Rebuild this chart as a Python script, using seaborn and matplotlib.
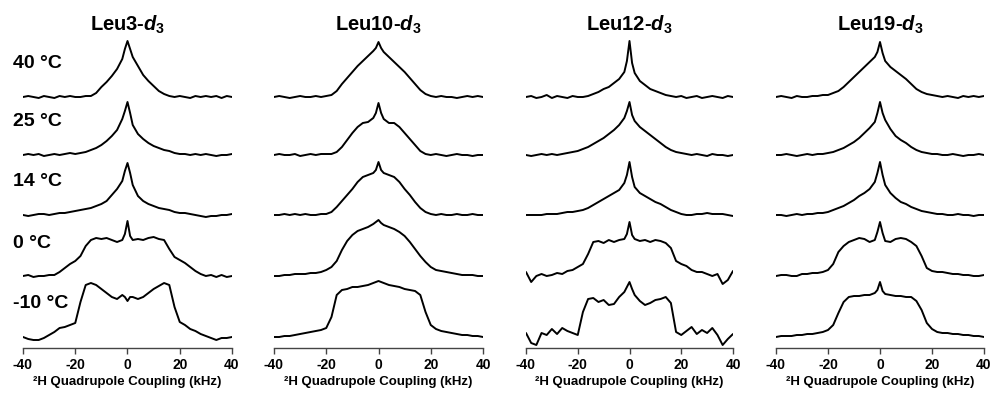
import numpy as np
import matplotlib
matplotlib.use('Agg')
import matplotlib.pyplot as plt
import seaborn as sns

# frequency grid (kHz), denser at the centre to keep the sharp isotropic peak
khz = [-40, -38, -36, -34, -32, -30, -28, -26, -24, -22, -20, -18, -16, -14, -12, -10, -8, -6, -4, -2,
       -1, 0, 1,
       2, 4, 6, 8, 10, 12, 14, 16, 18, 20, 22, 24, 26, 28, 30, 32, 34, 36, 38, 40]

temps = ['40 \u00b0C', '25 \u00b0C', '14 \u00b0C', '0 \u00b0C', '-10 \u00b0C']
panels = ['Leu3', 'Leu10', 'Leu12', 'Leu19']

# relative intensities
leu3_40 = [0, 1, 0, -1, 1, 0, -1, 1, 0, 1, 0, 0, 1, 1, 4, 10, 15, 21, 28, 38,
           48, 56, 48,
           40, 31, 22, 16, 11, 6, 3, 1, 0, 1, 0, -1, 1, 0, 1, 0, 1, -1, 1, 0]
leu3_25 = [0, 1, 0, 1, -1, 0, 1, 0, 1, 2, 1, 2, 3, 5, 7, 10, 14, 19, 25, 36,
           44, 53, 42,
           30, 21, 16, 12, 9, 7, 5, 4, 2, 1, 1, 0, 1, 0, 1, 0, -1, 0, 0, 1]
leu3_14 = [0, -1, 0, 1, 1, 0, 1, 2, 2, 3, 4, 5, 6, 7, 9, 11, 14, 20, 26, 34,
           44, 52, 42,
           30, 19, 14, 11, 9, 7, 6, 5, 3, 2, 2, 1, 0, -1, -2, -1, -1, 0, 0, 1]
leu3_0 = [0, 1, -1, 0, 0, 1, 1, 4, 8, 12, 15, 20, 30, 36, 38, 37, 38, 36, 34, 36,
          42, 55, 40,
          36, 37, 36, 38, 39, 37, 36, 27, 19, 16, 13, 9, 5, 2, 0, 1, -1, 1, -1, 0]
leu3_m10 = [0, -2, -3, -3, -1, 2, 5, 9, 10, 12, 14, 35, 52, 54, 52, 48, 44, 40, 38, 42,
            40, 36, 40,
            40, 38, 40, 44, 48, 51, 54, 52, 30, 15, 12, 8, 6, 3, 1, -1, -3, -1, -1, 0]

leu10_40 = [0, 1, 0, -1, 0, 1, 0, 0, 1, 0, 1, 2, 6, 13, 19, 25, 31, 36, 41, 46,
            49, 55, 49,
            45, 40, 35, 30, 25, 19, 13, 7, 3, 1, 0, 1, 0, 0, -1, 0, 1, 0, 1, 0]
leu10_25 = [0, 1, 0, 0, 1, -1, 0, 1, 0, 1, 1, 1, 3, 8, 15, 22, 28, 32, 33, 37,
            42, 52, 42,
            36, 32, 32, 28, 22, 16, 10, 4, 1, 0, 1, 0, -1, 0, 1, 0, 0, -1, 0, 0]
leu10_14 = [0, 0, 1, 0, 1, 0, 1, 0, 0, 1, 1, 3, 8, 14, 20, 26, 33, 38, 40, 42,
            45, 53, 45,
            42, 40, 38, 33, 26, 20, 13, 7, 3, 1, 0, 1, 0, 0, 1, 0, 0, 1, 0, 0]
leu10_0 = [0, 0, 1, 1, 2, 2, 2, 3, 3, 4, 6, 9, 15, 26, 35, 41, 45, 47, 49, 52,
           54, 56, 53,
           51, 49, 47, 44, 40, 34, 27, 20, 14, 9, 6, 5, 4, 3, 2, 1, 1, 1, 0, 0]
leu10_m10 = [0, 0, 1, 1, 2, 3, 4, 5, 6, 7, 9, 20, 42, 47, 48, 50, 50, 51, 52, 54,
             55, 56, 55,
             54, 52, 51, 50, 48, 47, 46, 42, 25, 12, 8, 6, 5, 4, 3, 2, 2, 1, 1, 0]

leu12_40 = [0, 1, -1, 0, 2, -1, 1, 0, -1, 1, 0, 0, 1, 3, 5, 8, 10, 14, 18, 25,
            36, 56, 34,
            24, 16, 12, 8, 6, 4, 2, 1, 0, 1, -1, 0, 1, -1, 0, 1, 0, -1, 1, 0]
leu12_25 = [0, -1, 0, 1, 0, 1, 0, 1, 2, 3, 4, 6, 8, 11, 14, 17, 21, 25, 30, 37,
            44, 53, 40,
            34, 28, 24, 20, 16, 12, 8, 5, 3, 2, 1, 0, 1, 0, -1, 1, 0, 0, -1, 0]
leu12_14 = [0, 0, 0, 0, 1, 1, 1, 2, 3, 3, 4, 5, 7, 10, 13, 16, 19, 22, 25, 32,
            40, 53, 38,
            28, 22, 19, 16, 13, 11, 8, 5, 3, 1, 0, 0, 1, 1, 2, 1, 1, 1, 0, -1]
leu12_0 = [4, -6, 0, 2, 0, 1, 3, 2, 5, 6, 9, 12, 22, 34, 35, 33, 36, 34, 36, 37,
           42, 54, 41,
           37, 35, 36, 34, 36, 35, 33, 28, 15, 12, 10, 6, 4, 4, 2, 0, 2, -8, -4, 5]
leu12_m10 = [4, -6, -8, 4, 2, 8, 3, 9, 6, 4, 2, 25, 38, 39, 35, 37, 32, 33, 40, 45,
             50, 55, 48,
             42, 36, 32, 34, 37, 38, 40, 34, 5, 2, 6, 10, 3, 7, 4, 9, 2, -8, -2, 3]

leu19_40 = [0, 1, 0, -1, 1, 0, 0, 1, 1, 2, 2, 4, 6, 10, 15, 20, 25, 30, 35, 40,
            45, 55, 44,
            36, 30, 26, 22, 18, 13, 8, 5, 3, 2, 1, 0, 1, 0, -1, 1, 0, 1, 0, 1]
leu19_25 = [0, 0, 1, 0, -1, 0, 1, 0, 1, 1, 2, 3, 5, 7, 10, 13, 17, 22, 27, 33,
            42, 53, 42,
            35, 26, 19, 15, 12, 8, 5, 3, 2, 1, 1, 0, 0, 1, 0, -1, 0, 0, 1, 0]
leu19_14 = [0, 0, -1, 0, 1, 0, 1, 1, 2, 2, 3, 5, 7, 9, 12, 15, 19, 22, 26, 33,
            42, 53, 40,
            30, 22, 17, 13, 11, 8, 6, 4, 3, 2, 1, 1, 0, 0, 1, 0, 0, -1, 0, 0]
leu19_0 = [0, 1, 1, 0, 0, 2, 2, 3, 3, 4, 6, 12, 24, 30, 34, 36, 38, 37, 34, 36,
           44, 54, 43,
           35, 34, 37, 38, 37, 34, 30, 20, 8, 5, 4, 4, 3, 2, 2, 1, 1, 0, 0, 1]
leu19_m10 = [0, 1, 1, 1, 2, 2, 3, 3, 4, 5, 7, 12, 24, 35, 40, 41, 41, 42, 42, 44,
             47, 55, 46,
             43, 42, 41, 41, 40, 40, 36, 27, 14, 8, 5, 4, 4, 3, 3, 2, 2, 1, 1, 0]

spectra = [
    [leu3_40, leu3_25, leu3_14, leu3_0, leu3_m10],
    [leu10_40, leu10_25, leu10_14, leu10_0, leu10_m10],
    [leu12_40, leu12_25, leu12_14, leu12_0, leu12_m10],
    [leu19_40, leu19_25, leu19_14, leu19_0, leu19_m10],
]

sns.set_style('white')
plt.rcParams['font.family'] = ['Liberation Sans', 'DejaVu Sans']
plt.rcParams['mathtext.fontset'] = 'custom'
plt.rcParams['mathtext.rm'] = 'Liberation Sans:bold'
plt.rcParams['mathtext.it'] = 'Liberation Sans:italic:bold'
plt.rcParams['text.color'] = 'black'
plt.rcParams['axes.labelcolor'] = 'black'
plt.rcParams['xtick.color'] = 'black'

W, H = 993, 397
fig = plt.figure(figsize=(W / 100, H / 100), dpi=100)

# stacking offsets (40 C on top)
offsets = [240, 182, 122, 61, 0]
lefts = [23, 274, 526, 776]
widths = [209, 209, 207, 208]
bottom_px, top_px = 348, 35

for i, name in enumerate(panels):
    ax = fig.add_axes([lefts[i] / W, (H - bottom_px) / H, widths[i] / W, (bottom_px - top_px) / H])
    for j, vals in enumerate(spectra[i]):
        sns.lineplot(x=khz, y=np.array(vals) + offsets[j], ax=ax, color='black', linewidth=1.4)
    ax.set_xlim(-40, 40)
    ax.set_ylim(-11, bottom_px - top_px - 11)
    ax.set_yticks([])
    ax.set_ylabel('')
    for s in ['left', 'top', 'right']:
        ax.spines[s].set_visible(False)
    ax.spines['bottom'].set_color('#444444')
    ax.spines['bottom'].set_linewidth(1.0)
    ax.set_xticks([-40, -20, 0, 20, 40], labels=['-40', '-20', '0', '20', '40'],
                  fontweight='bold', fontsize=10)
    ax.tick_params(axis='x', direction='out', length=4, width=1, pad=3, bottom=True,
                   color='#444444', labelcolor='black')
    ax.set_xlabel('\u00b2H Quadrupole Coupling (kHz)', fontsize=9.5, fontweight='bold', labelpad=3)
    cx = (lefts[i] + widths[i] / 2) / W
    fig.text(cx, 1 - 25 / H, name + r'-$d_3$', ha='center', va='center',
             fontsize=14.5, fontweight='bold')

    if i == 0:
        for j, t in enumerate(temps):
            ax.text(-43.8, offsets[j] + 33, t, ha='left', va='center', fontsize=14,
                    fontweight='bold', clip_on=False)

fig.savefig('out.png', dpi=100)
